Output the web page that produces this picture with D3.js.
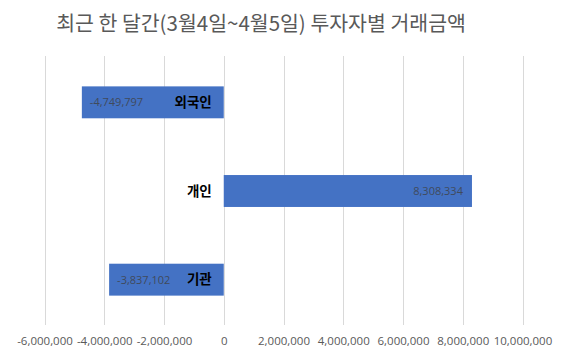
<!DOCTYPE html>
<html><head><meta charset="utf-8">
<script src="https://cdn.jsdelivr.net/npm/d3@7"></script>
<style>body{margin:0;background:#fff}svg{display:block}</style>
</head><body>
<svg id="c" width="568" height="358"></svg>
<script>
const title = "최근 한 달간(3월4일~4월5일) 투자자별 거래금액";
const categories = ["외국인", "개인", "기관"];
const values = [-4749797, 8308334, -3837102];
const tickValues = [-6000000, -4000000, -2000000, 0, 2000000, 4000000, 6000000, 8000000, 10000000];

const svg = d3.select("#c");
const x = d3.scaleLinear().domain([-6000000, 10000000]).range([44.5, 522.5]);
const y = d3.scaleBand().domain(categories).range([58, 324]).paddingInner(0.64).paddingOuter(0.32);
const fmt = v => d3.format(",")(v).replace("−", "-");

svg.append("text").attr("x", 261).attr("y", 31).attr("text-anchor", "middle")
  .attr("font-family", "'Noto Sans CJK KR', 'Noto Sans', sans-serif").attr("font-size", 20.5)
  .attr("fill", "#595959").text(title);

const axis = d3.axisBottom(x).tickValues(tickValues).tickSize(0).tickFormat(fmt);
const g = svg.append("g").attr("transform", "translate(0,325)");
svg.append("g").selectAll("line").data(tickValues).join("line")
  .attr("x1", d => Math.round(x(d)) + 0.5).attr("x2", d => Math.round(x(d)) + 0.5)
  .attr("y1", 56).attr("y2", 325).attr("stroke", "#d9d9d9").attr("stroke-width", 1);
g.call(axis);
g.select(".domain").remove();
g.selectAll("text").attr("dy", "0.35em").attr("y", 16).attr("fill", "#595959")
  .attr("font-family", "'Open Sans', 'DejaVu Sans', sans-serif").attr("font-size", 11.5);

const bars = svg.append("g");
bars.selectAll("rect").data(values).join("rect")
  .attr("x", d => x(Math.min(0, d))).attr("width", d => Math.abs(x(d) - x(0)))
  .attr("y", (d, i) => y(categories[i])).attr("height", y.bandwidth())
  .attr("fill", "#4472C4");

bars.selectAll("text.v").data(values).join("text").attr("class", "v")
  .attr("x", d => d < 0 ? x(d) + 8 : x(d) - 9)
  .attr("text-anchor", d => d < 0 ? "start" : "end")
  .attr("y", (d, i) => y(categories[i]) + y.bandwidth() / 2).attr("dy", "0.35em")
  .attr("font-family", "'Open Sans', 'DejaVu Sans', sans-serif").attr("font-size", 11)
  .attr("fill", "#404a5c").text(d => fmt(d));

bars.selectAll("text.c").data(categories).join("text").attr("class", "c")
  .attr("x", x(0) - 12).attr("text-anchor", "end")
  .attr("y", d => y(d) + y.bandwidth() / 2).attr("dy", "0.35em")
  .attr("font-family", "'Noto Sans CJK KR', sans-serif").attr("font-size", 13.5).attr("font-weight", "bold")
  .attr("fill", "#000").text(d => d);
</script>
</body></html>
